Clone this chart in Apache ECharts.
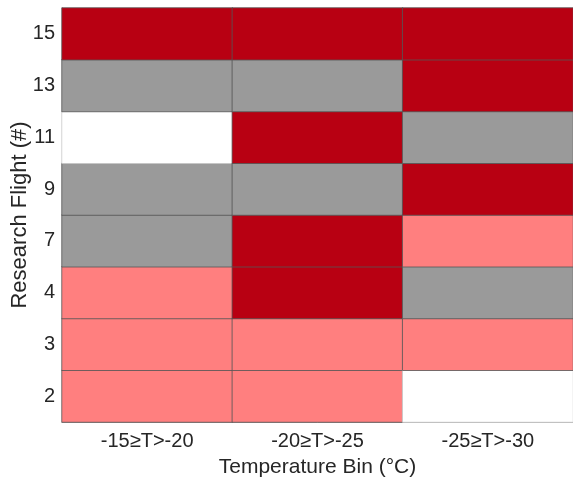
<!DOCTYPE html>
<html><head><meta charset="utf-8">
<script src="https://cdn.jsdelivr.net/npm/echarts@6/dist/echarts.min.js"></script>
<style>html,body{margin:0;padding:0;background:#fff}#c{width:573px;height:480px}</style>
</head><body><div id="c"></div>
<script>
const tempBins = ['-15\u2265T>-20', '-20\u2265T>-25', '-25\u2265T>-30'];
const flights = ['2', '3', '4', '7', '9', '11', '13', '15'];
// category codes: 0 = none (white), 1 = light red, 2 = gray, 3 = dark red
const bin1 = [1, 1, 1, 2, 2, 0, 2, 3];
const bin2 = [1, 1, 3, 3, 2, 3, 2, 3];
const bin3 = [0, 1, 2, 1, 3, 2, 3, 3];
const colors = ['#ffffff', '#ff7f7f', '#9a9a9a', '#b80012'];

const cols = [bin1, bin2, bin3];
const data = [];
cols.forEach((col, xi) => col.forEach((v, yi) => {
  data.push({value: [xi, yi, v], itemStyle: {borderColor: v === 0 ? '#c8c8c8' : '#555555'}});
}));

const chart = echarts.init(document.getElementById('c'), null, {renderer: 'canvas'});
chart.setOption({
  animation: false,
  backgroundColor: '#fff',
  grid: {left: 62, right: 0, top: 8, bottom: 58, outerBoundsMode: 'none', containLabel: false},
  xAxis: {
    type: 'category', data: tempBins,
    name: 'Temperature Bin (\u00b0C)', nameLocation: 'middle', nameGap: 35, nameMoveOverlap: false,
    nameTextStyle: {fontFamily: 'Liberation Sans', fontSize: 21, color: '#262626'},
    axisLine: {lineStyle: {color: '#a0a0a0', width: 1}},
    axisTick: {show: false},
    axisLabel: {fontFamily: 'Liberation Sans', fontSize: 20, color: '#262626', margin: 9},
    splitArea: {show: false}
  },
  yAxis: {
    type: 'category', data: flights,
    name: 'Research Flight (#)', nameLocation: 'middle', nameGap: 31, nameMoveOverlap: false,
    nameTextStyle: {fontFamily: 'Liberation Sans', fontSize: 22, color: '#262626'},
    axisLine: {lineStyle: {color: '#a0a0a0', width: 1}},
    axisTick: {show: false},
    axisLabel: {fontFamily: 'Liberation Sans', fontSize: 20, color: '#262626', margin: 7}
  },
  visualMap: {
    type: 'piecewise', show: false, dimension: 2,
    pieces: colors.map((c, i) => ({value: i, color: c}))
  },
  series: [{
    type: 'heatmap', data: data,
    itemStyle: {borderWidth: 0.8, borderColor: '#555555'},
    emphasis: {disabled: true}
  }]
});
</script></body></html>
